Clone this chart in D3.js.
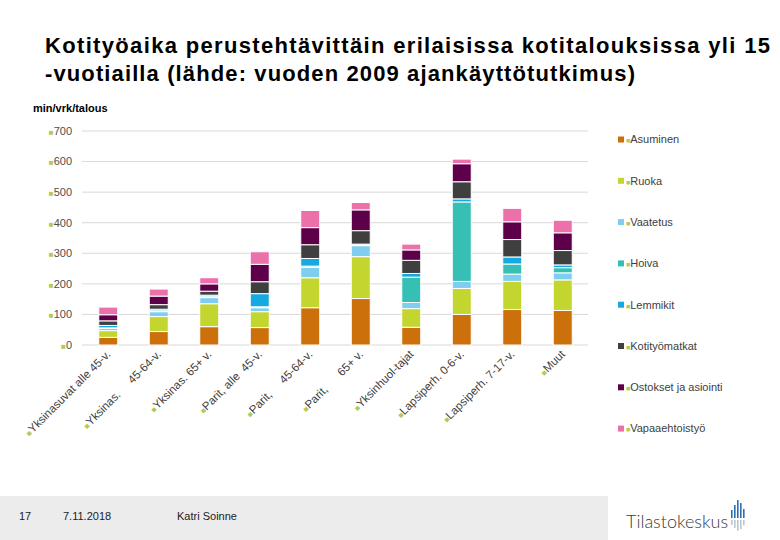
<!DOCTYPE html>
<html>
<head>
<meta charset="utf-8">
<script src="https://cdn.jsdelivr.net/npm/d3@7"></script>
<style>
  body { margin: 0; background: #fff; }
  svg { font-family: "Liberation Sans", Arial, sans-serif; }
  .lbl { white-space: pre; }
</style>
</head>
<body>
<div id="chart"></div>
<script>
// categories (household types)
var categories = ['Yksinasuvat alle 45-v.', 'Yksinas.     45-64-v.', 'Yksinas. 65+ v.',
    'Parit, alle  45-v.', 'Parit,     45-64-v.', 'Parit,      65+ v.', 'Yksinhuol-tajat',
    'Lapsiperh. 0-6-v.', 'Lapsiperh. 7-17-v.', 'Muut'];

// series names, bottom to top
var seriesNames = ['Asuminen', 'Ruoka', 'Vaatetus', 'Hoiva', 'Lemmikit',
    'Kotityömatkat', 'Ostokset ja asiointi', 'Vapaaehtoistyö'];

// minutes per day per household
var asuminen       = [25, 44, 60, 57, 122, 152, 58, 100, 116, 113];
var ruoka          = [22, 49, 75, 52, 98, 137, 61, 85, 92, 100];
var vaatetus       = [7, 16, 20, 13, 34, 36, 20, 23, 24, 23];
var hoiva          = [2, 3, 3, 3, 4, 2, 83, 260, 33, 17];
var lemmikit       = [8, 5, 5, 43, 25, 3, 12, 10, 23, 9];
var kotityomatkat  = [15, 15, 13, 39, 45, 44, 43, 56, 57, 47];
var ostokset       = [20, 28, 24, 57, 56, 68, 34, 59, 58, 58];
var vapaaehtoistyo = [25, 23, 20, 41, 56, 24, 19, 15, 44, 41];

var yTicks = [0, 100, 200, 300, 400, 500, 600, 700];

var colors = ['#cc700c', '#c3d52f', '#7fcdef', '#36c0b5', '#16a8e0', '#3f3f3f', '#5e0049', '#ec70aa'];
var bulletGreen = '#b3c95a';

var seriesValues = [asuminen, ruoka, vaatetus, hoiva, lemmikit, kotityomatkat, ostokset, vapaaehtoistyo];

// table for d3.stack
var table = categories.map(function(c, i) {
    var row = { cat: c };
    seriesNames.forEach(function(s, j) { row[s] = seriesValues[j][i]; });
    return row;
});

var W = 780, H = 540;
var svg = d3.select('#chart').append('svg')
    .attr('width', W).attr('height', H);

// title, stretched to the width it has in the slide
var title = svg.append('g')
    .attr('font-size', 22).attr('font-weight', 'bold').attr('fill', '#000');
title.append('text').attr('x', 45).attr('y', 53)
    .attr('textLength', 725).attr('lengthAdjust', 'spacing')
    .text('Kotityöaika perustehtävittäin erilaisissa kotitalouksissa yli 15');
title.append('text').attr('x', 45).attr('y', 81)
    .attr('textLength', 590).attr('lengthAdjust', 'spacing')
    .text('-vuotiailla (lähde: vuoden 2009 ajankäyttötutkimus)');

// unit label
svg.append('text')
    .attr('x', 33).attr('y', 112)
    .attr('font-size', 11).attr('font-weight', 'bold').attr('fill', '#000')
    .text('min/vrk/talous');

// scales
var x = d3.scaleBand().domain(categories).range([83, 588])
    .paddingInner(0.624).paddingOuter(0.312);
var y = d3.scaleLinear().domain([0, 700]).range([345, 131]);

// gridlines
svg.append('g').selectAll('line').data(yTicks).enter()
    .append('line')
    .attr('x1', 82).attr('x2', 588)
    .attr('y1', function(d) { return y(d); })
    .attr('y2', function(d) { return y(d); })
    .attr('stroke', '#d9d9d9').attr('stroke-width', 1);

// y tick labels with green bullets
var yl = svg.append('g').selectAll('text').data(yTicks).enter()
    .append('text')
    .attr('x', 72)
    .attr('y', function(d) { return y(d); })
    .attr('dy', '0.35em')
    .attr('text-anchor', 'end')
    .attr('font-size', 11).attr('fill', '#4d4d4d');
yl.append('tspan').attr('fill', bulletGreen).attr('font-size', 8).text('■');
yl.append('tspan').text(function(d) { return d; });

// stacked bars
var stack = d3.stack().keys(seriesNames)(table);
var layers = svg.append('g').selectAll('g').data(stack).enter()
    .append('g').attr('fill', function(d, i) { return colors[i]; });
layers.selectAll('rect').data(function(d) { return d; }).enter()
    .append('rect')
    .attr('x', function(d) { return x(d.data.cat); })
    .attr('width', x.bandwidth())
    .attr('y', function(d) { return y(d[1]); })
    .attr('height', function(d) { return y(d[0]) - y(d[1]); })
    .attr('stroke', '#fff').attr('stroke-width', 1);

// x labels, rotated
var xl = svg.append('g').selectAll('text').data(categories).enter()
    .append('text')
    .attr('class', 'lbl')
    .attr('text-anchor', 'end')
    .attr('font-size', 11.5).attr('fill', '#404040')
    .attr('transform', function(d) {
        return 'translate(' + (x(d) + x.bandwidth() / 2 + 3) + ',355) rotate(-45)';
    });
xl.append('tspan').attr('fill', bulletGreen).attr('font-size', 8).text('■');
xl.append('tspan').text(function(d) { return d; });

// legend
var legend = svg.append('g').selectAll('g').data(seriesNames).enter()
    .append('g')
    .attr('transform', function(d, i) { return 'translate(618,' + (139.5 + i * 41.3) + ')'; });
legend.append('rect')
    .attr('x', 0).attr('y', -3).attr('width', 6).attr('height', 6)
    .attr('fill', function(d, i) { return colors[i]; });
var lt = legend.append('text')
    .attr('x', 8).attr('dy', '0.35em')
    .attr('font-size', 11).attr('fill', '#404040');
lt.append('tspan').attr('fill', bulletGreen).attr('font-size', 7).text('■');
lt.append('tspan').text(function(d) { return d; });

// footer
svg.append('rect').attr('x', 0).attr('y', 496).attr('width', 608).attr('height', 44).attr('fill', '#ececec');
var foot = svg.append('g')
    .attr('font-family', '"Liberation Sans Narrow", "Liberation Sans", Arial, sans-serif')
    .attr('font-size', 11).attr('fill', '#222');
foot.append('text').attr('x', 19).attr('y', 520).text('17');
foot.append('text').attr('x', 63).attr('y', 520).text('7.11.2018');
foot.append('text').attr('x', 177).attr('y', 520).text('Katri Soinne');

// logo
svg.append('text')
    .attr('x', 626).attr('y', 528)
    .attr('font-family', 'Lato, "Open Sans", sans-serif')
    .attr('font-weight', 300).attr('font-size', 18).attr('fill', '#3a3a3a')
    .text('Tilastokeskus');
var logoBars = [[731, 510, 8], [734, 505, 13], [737, 500, 18], [740, 503, 15], [743, 509, 9]];
svg.append('g').selectAll('rect').data(logoBars).enter()
    .append('rect')
    .attr('x', function(d) { return d[0]; })
    .attr('y', function(d) { return d[1]; })
    .attr('width', 1.6)
    .attr('height', function(d) { return d[2]; })
    .attr('fill', '#2f6fb3');
svg.append('g').selectAll('rect').data(logoBars).enter()
    .append('rect')
    .attr('x', function(d) { return d[0]; })
    .attr('y', function(d) { return d[1] + d[2] + 2; })
    .attr('width', 1.6)
    .attr('height', function(d) { return d[2] * 0.6; })
    .attr('fill', '#b9c6d6');
</script>
</body>
</html>
